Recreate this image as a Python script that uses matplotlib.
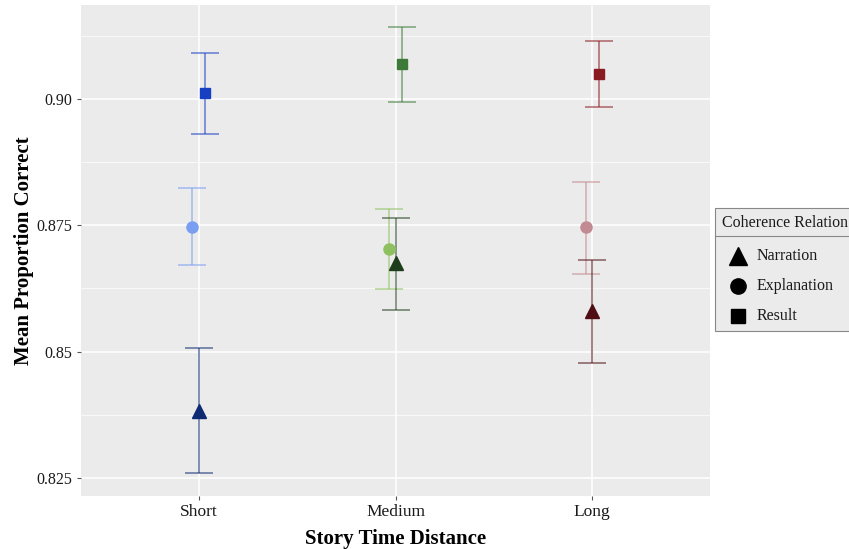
import matplotlib
matplotlib.use('Agg')
import matplotlib.pyplot as plt
from matplotlib.patches import Rectangle
from matplotlib.lines import Line2D
import numpy as np

plt.rcParams['font.family'] = ['Liberation Serif', 'DejaVu Serif']

distances = ['Short', 'Medium', 'Long']
relations = ['Narration', 'Explanation', 'Result']
markers = {'Narration': '^', 'Explanation': 'o', 'Result': 's'}
msizes = {'Narration': 10, 'Explanation': 8, 'Result': 7.5}

# mean, lower, upper per distance (Short, Medium, Long)
narration_mean = [0.8383, 0.8676, 0.8581]
narration_lo = [0.8259, 0.8582, 0.8478]
narration_hi = [0.8506, 0.8764, 0.8682]
explanation_mean = [0.8747, 0.8703, 0.8747]
explanation_lo = [0.8671, 0.8623, 0.8654]
explanation_hi = [0.8823, 0.8783, 0.8836]
result_mean = [0.9011, 0.9069, 0.9049]
result_lo = [0.8930, 0.8994, 0.8984]
result_hi = [0.9090, 0.9142, 0.9115]

colors = {
    'Short': {'Narration': '#0e2a72', 'Explanation': '#7a9ef2', 'Result': '#173fc2'},
    'Medium': {'Narration': '#1e3d1b', 'Explanation': '#8fc060', 'Result': '#3d7a37'},
    'Long': {'Narration': '#4e0e13', 'Explanation': '#c28a92', 'Result': '#8a1b20'},
}

data = {
    'Narration': (narration_mean, narration_lo, narration_hi),
    'Explanation': (explanation_mean, explanation_lo, explanation_hi),
    'Result': (result_mean, result_lo, result_hi),
}
dodge = {'Explanation': -0.033, 'Narration': 0.0, 'Result': 0.033}

fig = plt.figure(figsize=(8.49, 5.49), dpi=100)
W, H = 849, 549
ax = fig.add_axes([81 / W, (H - 496) / H, (710 - 81) / W, (496 - 5) / H])
ax.set_facecolor('#ebebeb')
for s in ax.spines.values():
    s.set_visible(False)

xs = np.arange(len(distances)) + 1
order = ['Explanation', 'Narration', 'Result']
for rel in order:
    mean, lo, hi = data[rel]
    for i, d in enumerate(distances):
        x = xs[i] + dodge[rel]
        c = colors[d][rel]
        ax.errorbar(x, mean[i], yerr=[[mean[i] - lo[i]], [hi[i] - mean[i]]],
                    fmt='none', ecolor=c, alpha=0.6, elinewidth=1.2,
                    capsize=10, capthick=1.2, zorder=3)
        ax.plot(x, mean[i], marker=markers[rel], ms=msizes[rel], color=c,
                mec=c, ls='none', zorder=4)

ax.set_xlim(0.4, 3.6)
ax.set_ylim(0.8214, 0.9186)
ax.set_xticks(xs)
ax.set_xticklabels(distances)
yt = [0.825, 0.85, 0.875, 0.90]
ax.set_yticks(yt)
ax.set_yticklabels(['0.825', '0.85', '0.875', '0.90'])
ax.set_yticks([0.8375, 0.8625, 0.8875, 0.9125], minor=True)
ax.set_xticks([], minor=True)
ax.grid(True, which='major', color='white', lw=1.1, zorder=0)
ax.grid(True, which='minor', axis='y', color='white', lw=0.5, zorder=0)
ax.set_axisbelow(True)
ax.tick_params(axis='both', which='major', length=3, width=0.8, color='#555555',
               labelsize=11.5, labelcolor='#1a1a1a', pad=3)
ax.tick_params(axis='x', which='major', labelsize=12.5)
ax.tick_params(axis='y', which='minor', length=0)
ax.set_xlabel('Story Time Distance', fontsize=15, fontweight='bold', labelpad=6)
ax.set_ylabel('Mean Proportion Correct', fontsize=15, fontweight='bold', labelpad=2)

# legend box, drawn in figure pixels
def px(x, y):
    return x / W, 1 - y / H

lx0, ly0, ly1, lsep = 715, 208, 331, 236
fig.patches.append(Rectangle(px(lx0, ly1), (900 - lx0) / W, (ly1 - ly0) / H,
                             transform=fig.transFigure, fc='#ebebeb',
                             ec='#888888', lw=0.8))
fig.lines.append(Line2D([lx0 / W, 1], [1 - lsep / H] * 2,
                        transform=fig.transFigure, color='#888888', lw=0.8))
fig.text(*px(722, 223), 'Coherence Relation', fontsize=11.4, va='center',
         ha='left', color='#1a1a1a')
for rel, yy in zip(relations, [256, 286, 316]):
    fig.lines.append(Line2D([738 / W], [1 - yy / H], marker=markers[rel],
                            ms=msizes[rel] + 3, color='black', ls='none',
                            transform=fig.transFigure))
    fig.text(*px(757, yy), rel, fontsize=11.5, va='center', ha='left',
             color='#1a1a1a')

fig.savefig('out.png', dpi=100)
